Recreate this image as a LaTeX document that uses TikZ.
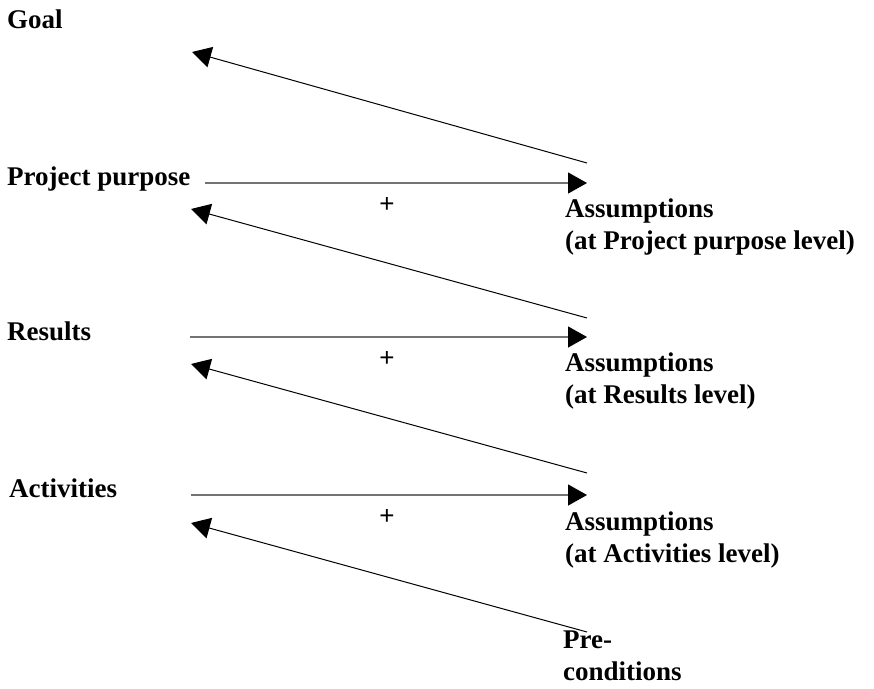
\documentclass[tikz,border=0pt]{standalone}
\usepackage{fontspec}
\setmainfont{Liberation Serif}
\newfontfamily\plusfont{Liberation Sans}
\usetikzlibrary{arrows.meta}

\begin{document}
\begin{tikzpicture}[x=1pt, y=-1pt,
    every node/.style={inner sep=0pt},
    level/.style={font=\bfseries\fontsize{27}{32}\selectfont, anchor=base west, align=left},
    plus/.style={font=\plusfont\fontsize{26}{30}\selectfont},
    flow/.style={draw=black!55, line width=1.3pt, -{Triangle[length=19pt, width=21pt, color=black]}},
    back/.style={draw=black, line width=1pt, -{Triangle[length=19pt, width=21pt]}}]
    \useasboundingbox (0,0) rectangle (874,688);
    % Levels
    \node[level] (goal) at (7,28) {Goal};
    \node[level] (purpose) at (7,185) {Project purpose};
    \node[level] (results) at (7,340) {Results};
    \node[level] (activities) at (9,497) {Activities};
    % Assumptions (placed by the baseline of their last line)
    \node[level] (asspp) at (565,249) {Assumptions\\(at Project purpose level)};
    \node[level] (assres) at (565,403) {Assumptions\\(at Results level)};
    \node[level] (assact) at (565,562) {Assumptions\\(at Activities level)};
    \node[level] (precond) at (563,680) {Pre-\\conditions};
    % Ends of the arrows
    \coordinate (goal-h) at (192,52);
    \coordinate (goal-t) at (587,163);
    \foreach \n/\y/\xl/\ht/\tt in {pp/183/205/209/318, res/337/190/364/473, act/495/191/523/632} {
        \coordinate (\n-l) at (\xl,\y);
        \coordinate (\n-r) at (587,\y);
        \coordinate (\n-h) at (191,\ht);
        \coordinate (\n-t) at (587,\tt);
        \node[plus] (\n-plus) at (387,\y+29) {+};
    }
    % Connections
    \draw[back] (goal-t) -- (goal-h);
    \foreach \n in {pp,res,act} {
        \draw[flow] (\n-l) -- (\n-r);
        \draw[back] (\n-t) -- (\n-h);
    }
\end{tikzpicture}
\end{document}
